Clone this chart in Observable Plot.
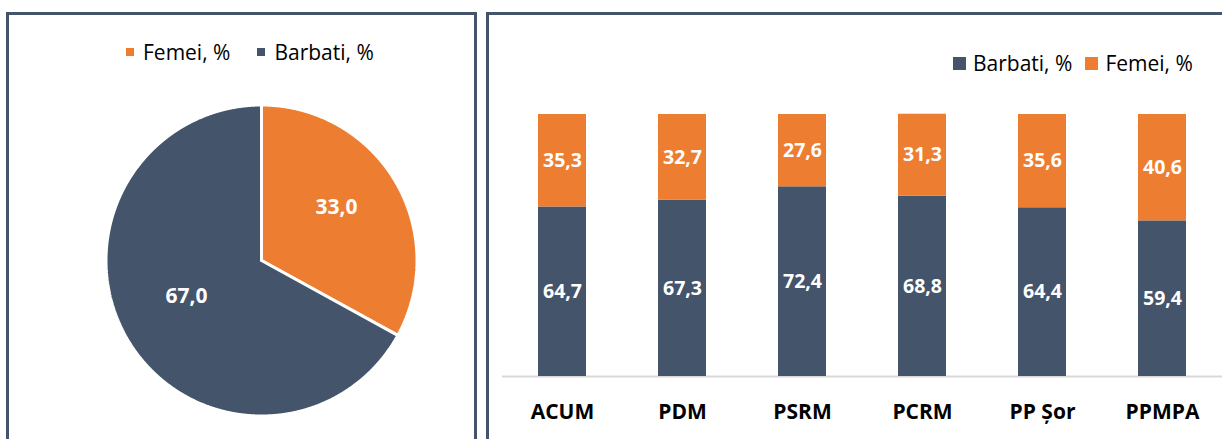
<!DOCTYPE html>
<html><head><meta charset="utf-8">
<script src="https://cdn.jsdelivr.net/npm/d3@7"></script>
<script src="https://cdn.jsdelivr.net/npm/@observablehq/plot@0.6"></script>
<style>
body{margin:0;background:#fff;font-family:"Open Sans",sans-serif;}
#wrap{position:relative;width:1222px;height:439px;overflow:hidden;background:#fff;}
.panel{position:absolute;border:3px solid #44546a;box-sizing:border-box;pointer-events:none;}
#p1{left:6px;top:12px;width:471px;height:460px;}
#p2{left:486px;top:12px;width:760px;height:460px;}
.chart{position:absolute;top:0;}
.legend{position:absolute;display:flex;align-items:center;white-space:nowrap;color:#000;font-size:21px;height:30px;}
.sw{display:inline-block;}
</style></head>
<body>
<div id="wrap">
  <div id="pie" class="chart" style="left:0"></div>
  <div id="bars" class="chart" style="left:489px"></div>
  <div id="leg1" class="legend" style="left:126px;top:37px"></div>
  <div id="leg2" class="legend" style="left:953px;top:48px"></div>
  <div id="p1" class="panel"></div>
  <div id="p2" class="panel"></div>
</div>
<script>
// ---- data ----
const pieLabels = ["Femei, %", "Barbati, %"];
const pieValues = [33.0, 67.0];

const parties = ["ACUM", "PDM", "PSRM", "PCRM", "PP Șor", "PPMPA"];
const barSeries = ["Barbati, %", "Femei, %"];
const barbati = [64.7, 67.3, 72.4, 68.8, 64.4, 59.4];
const femei = [35.3, 32.7, 27.6, 31.3, 35.6, 40.6];

const colorFor = {"Femei, %": "#ed7d31", "Barbati, %": "#44546a"};
const fmt = v => v.toFixed(1).replace(".", ",");

// ---- pie ----
const arcs = d3.pie().sort(null)(pieValues);
const piePts = [];
arcs.forEach((a, i) => {
  const slice = pieLabels[i];
  piePts.push({slice, x: 0, y: 0});
  const n = Math.max(2, Math.ceil((a.endAngle - a.startAngle) / 0.004));
  for (let k = 0; k <= n; k++) {
    const t = a.startAngle + (a.endAngle - a.startAngle) * k / n;
    piePts.push({slice, x: Math.sin(t), y: Math.cos(t)});
  }
  piePts.push({slice, x: 0, y: 0});
});
const pieText = arcs.map((a, i) => {
  const m = (a.startAngle + a.endAngle) / 2;
  return {slice: pieLabels[i], label: fmt(pieValues[i]), x: 0.56 * Math.sin(m), y: 0.56 * Math.cos(m)};
});

const R = 155.5, cx = 261, cy = 260;
const pie = Plot.plot({
  width: 476, height: 439, margin: 0,
  style: {fontFamily: "Open Sans", background: "transparent", overflow: "visible"},
  x: {axis: null, domain: [-1, 1], range: [cx - R, cx + R]},
  y: {axis: null, domain: [-1, 1], range: [cy + R, cy - R]},
  color: {domain: pieLabels, range: pieLabels.map(s => colorFor[s])},
  marks: [
    Plot.line(piePts, {x: "x", y: "y", z: "slice", fill: "slice", stroke: "white", strokeWidth: 3, strokeLinejoin: "miter"}),
    Plot.text(pieText, {x: "x", y: "y", text: "label", fill: "white", fontSize: 21, fontWeight: "bold", dy: -9})
  ]
});
document.getElementById("pie").appendChild(pie);

// ---- bars ----
const long = [];
parties.forEach((p, i) => {
  long.push({party: p, sex: barSeries[0], value: barbati[i]});
  long.push({party: p, sex: barSeries[1], value: femei[i]});
});
const bars = Plot.plot({
  width: 733, height: 439,
  marginLeft: 13, marginRight: 0, marginTop: 114, marginBottom: 63,
  style: {fontFamily: "Open Sans", background: "transparent", overflow: "visible", color: "#000"},
  x: {domain: parties, paddingInner: 0.6, paddingOuter: 0.3, label: null},
  y: {domain: [0, 100], axis: null},
  color: {domain: barSeries, range: barSeries.map(s => colorFor[s])},
  marks: [
    Plot.ruleY([0], {stroke: "#d9d9d9", strokeWidth: 2}),
    Plot.barY(long, {x: "party", y: "value", fill: "sex", z: "sex"}),
    Plot.text(long, Plot.stackY({x: "party", y: "value", z: "sex", text: d => fmt(d.value), fill: "white", fontSize: 19.5, fontWeight: "bold"})),
    Plot.axisX({tickSize: 0, tickPadding: 28, fontSize: 21, fontWeight: "bold", fill: "#000", label: null})
  ]
});
document.getElementById("bars").appendChild(bars);

// ---- legends ----
function legend(el, items, sw, gapText, gapItem) {
  items.forEach((s, i) => {
    const box = document.createElement("span");
    box.className = "sw";
    box.style.cssText = `width:${sw}px;height:${sw}px;background:${colorFor[s]};margin-right:${gapText}px;margin-left:${i ? gapItem : 0}px`;
    const t = document.createElement("span");
    t.textContent = s;
    el.appendChild(box); el.appendChild(t);
  });
}
legend(document.getElementById("leg1"), pieLabels, 8, 9, 27);
legend(document.getElementById("leg2"), barSeries, 13, 7, 13);
</script>
</body></html>
